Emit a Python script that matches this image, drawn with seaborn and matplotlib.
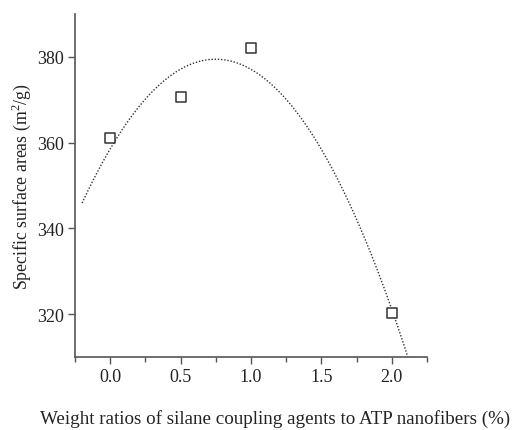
import numpy as np
import pandas as pd
import matplotlib
matplotlib.use("Agg")
import matplotlib.pyplot as plt
import seaborn as sns
from matplotlib.ticker import MultipleLocator

# Data
ratios = [0.0, 0.5, 1.0, 2.0]
surface_areas = [361.0, 370.6, 382.0, 320.3]

x_label = "Weight ratios of silane coupling agents to ATP nanofibers (%)"
y_label = "Specific surface areas (m$^2$/g)"

sns.set_theme(style="white")
plt.rcParams['font.family'] = ['Liberation Serif', 'DejaVu Serif']
plt.rcParams['mathtext.fontset'] = 'custom'
plt.rcParams['mathtext.rm'] = 'Liberation Serif'

df = pd.DataFrame({"ratio": ratios, "area": surface_areas})

# Quadratic fit of the data (as in the original figure)
coef = np.polyfit(df["ratio"], df["area"], 2)
xfit = np.linspace(-0.2, 2.2, 300)
fit = pd.DataFrame({"ratio": xfit, "area": np.polyval(coef, xfit)})

fig = plt.figure(figsize=(5.18, 4.31), dpi=100)
ax = fig.add_axes([0.1448, 0.1694, 0.6795, 0.7958])

sns.lineplot(data=fit, x="ratio", y="area", ax=ax, color="#333333",
             linestyle=(0, (1, 1.3)), linewidth=1.0)
sns.scatterplot(data=df, x="ratio", y="area", ax=ax, marker="s", s=55,
                facecolor="white", edgecolor="#333333", linewidth=1.1, zorder=5)

ax.set_xlim(-0.25, 2.25)
ax.set_ylim(310, 390)
ax.xaxis.set_major_locator(MultipleLocator(0.5))
ax.xaxis.set_minor_locator(MultipleLocator(0.25))
ax.yaxis.set_major_locator(MultipleLocator(20))
ax.xaxis.set_major_formatter(matplotlib.ticker.FormatStrFormatter('%.1f'))

for s in ["top", "right"]:
    ax.spines[s].set_visible(False)
for s in ["left", "bottom"]:
    ax.spines[s].set_color("#555555")
    ax.spines[s].set_linewidth(1.2)

ax.tick_params(axis='both', which='major', direction='out', length=5, width=1,
               color="#555555", labelsize=13, labelcolor="#222222", pad=3,
               bottom=True, left=True)
ax.tick_params(axis='x', which='minor', direction='out', length=3.5, width=1,
               color="#555555", bottom=True)

ax.set_xlabel(x_label, fontsize=13.7, color="#222222", labelpad=17)
ax.xaxis.label.set_x(0.568)
ax.set_ylabel(y_label, fontsize=12.8, color="#222222", labelpad=3)

fig.savefig("out.png", dpi=100)
